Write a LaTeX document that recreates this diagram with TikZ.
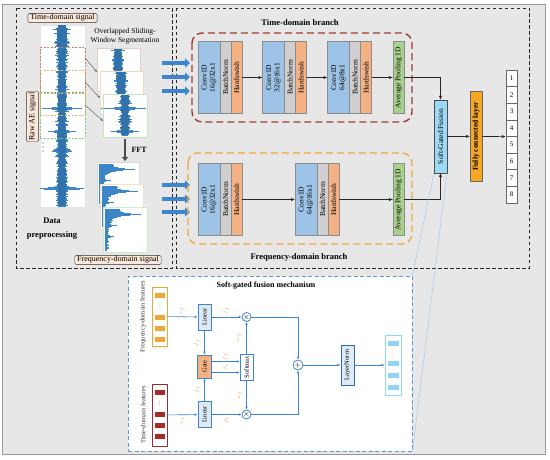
\documentclass[tikz,border=0pt]{standalone}
\usepackage{fontspec}
\setmainfont{Liberation Serif}
\usepackage{tikz}
\usetikzlibrary{arrows,arrows.meta,positioning,shapes,calc}

\definecolor{bggray}{HTML}{E7E7E7}
\definecolor{sigblue}{HTML}{3A86C8}
\definecolor{arrblue}{HTML}{3D85D0}
\definecolor{convblue}{HTML}{9DC3E6}
\definecolor{bngray}{HTML}{D0CECE}
\definecolor{hsorange}{HTML}{F4B183}
\definecolor{poolgreen}{HTML}{A9D18E}
\definecolor{fusblue}{HTML}{9CD9F5}
\definecolor{fcorange}{HTML}{F5A623}
\definecolor{tdred}{HTML}{A33A32}
\definecolor{fdorange}{HTML}{F0A73A}
\definecolor{mechblue}{HTML}{5B9BD5}
\definecolor{lblbeige}{HTML}{FBE8D8}
\definecolor{featred}{HTML}{A52A2A}
\definecolor{lblorange}{HTML}{E6A05A}
\definecolor{outblue}{HTML}{8FD3F7}
\definecolor{lnblue}{HTML}{DEEBF7}
\definecolor{winred}{HTML}{C08070}
\definecolor{winorange}{HTML}{F0B070}
\definecolor{wingreen}{HTML}{80D080}

\newcommand{\rtext}[1]{\rotatebox{90}{\shortstack{#1}}}
% raw AE signal strip: centre x, first y, last y
\newcommand{\wavestrip}[3]{%
  \pgfmathsetseed{#2}%
  \foreach \t in {#2,...,#3}{%
    \pgfmathsetmacro{\wvh}{2.6+1.6*rnd+0.6*abs(sin(\t*53))+1.5*max(0,1-abs(\t-30)/18)}%
    \pgfmathsetmacro{\wvs}{3.5*rnd^3+16*max(0,1-abs(\t-108)/1.6)+10*max(0,1-abs(\t-131)/1.6)+18*max(0,1-abs(\t-188)/2.2)+5*max(0,1-abs(\t-150)/3)}%
    \draw[sigblue!85!black, line width=1.05pt] (#1-\wvh,\t) -- (#1+\wvh,\t);
    \draw[sigblue, line width=0.5pt] (#1-\wvh-\wvs,\t) -- (#1+\wvh+\wvs,\t);
  }}
% spectrum strip: left x, first y, last y
\newcommand{\specstrip}[3]{%
  \pgfmathsetseed{#2}%
  \foreach \t in {#2,...,#3}{%
    \pgfmathsetmacro{\sd}{\t-#2}%
    \pgfmathsetmacro{\wvw}{min(36,2+30*exp(-abs(\sd-5)/1.6)+11*exp(-\sd/9)+6*max(0,1-abs(\sd-16)/1.5)+4*max(0,1-abs(\sd-27)/1.5)+2.5*rnd^2)}%
    \draw[sigblue, line width=0.9pt] (#1,\t) -- (#1+\wvw,\t);
  }}

\begin{document}
\begin{tikzpicture}[x=1pt, y=-1pt,
  blk/.style={draw=black!45, outer sep=0pt, inner sep=0pt, minimum height=72pt, font=\fontsize{7.5}{8.5}\selectfont},
  conv/.style={blk, fill=convblue, minimum width=22pt},
  bn/.style={blk, fill=bngray, minimum width=11pt},
  hs/.style={blk, fill=hsorange, minimum width=11pt},
  pool/.style={blk, fill=poolgreen, minimum width=11pt},
  tag/.style={draw=black!80, fill=lblbeige, rounded corners=1.5pt, inner xsep=2.5pt, inner ysep=1pt, font=\fontsize{8}{9}\selectfont},
  ttl/.style={font=\fontsize{8.5}{10}\selectfont\bfseries},
  dbox/.style={draw=black!85, line width=0.9pt, dash pattern=on 3.5pt off 2.5pt},
  win/.style={draw=#1, line width=0.5pt, dash pattern=on 2pt off 1.5pt, minimum width=45pt, minimum height=45pt, inner sep=0pt},
  frm/.style={draw=#1, fill=white, line width=0.3pt, minimum width=43pt, minimum height=43pt, inner sep=0pt},
  segline/.style={draw=black!70, line width=0.4pt, -{Latex[length=2.5pt,width=2pt]}},
  fftarr/.style={draw=black!70, line width=2.5pt, -{Triangle[length=4pt,width=6pt]}},
  bigarr/.style={draw=arrblue, line width=4pt, -{Triangle[length=5pt,width=9pt]}},
  flow/.style={draw=black!85, line width=0.6pt, -{Latex[length=4pt,width=3.2pt]}},
  outbox/.style={draw=black!60, fill=white, minimum width=11pt, minimum height=16.6pt, inner sep=0pt, font=\fontsize{7}{8}\selectfont},
  mbox/.style={draw=arrblue, line width=0.8pt, fill=#1, inner sep=0pt, font=\fontsize{6.5}{7}\selectfont},
  mar/.style={draw=arrblue, line width=0.6pt, -{Latex[length=3pt,width=2.6pt]}},
  lbl/.style={rotate=90, text=lblorange, font=\fontsize{5.5}{6}\selectfont, inner sep=0.5pt},
  op/.style={circle, draw=arrblue, line width=0.8pt, fill=white, inner sep=0pt, minimum size=9pt, font=\fontsize{8}{8}\selectfont}]
\useasboundingbox (0,0) rectangle (550,460);
\draw[draw=black!40, fill=bggray, line width=0.8pt] (2,4) rectangle (545,454);
\draw[dbox] (16,8) rectangle (172,268);
\draw[dbox] (176,8) rectangle (529,268);

% data preprocessing
\node[tag] (tsig) at (62.5,18) {Time-domain signal};
\node[draw=black!10, fill=white, minimum width=45pt, minimum height=182pt, inner sep=0pt] (raw) at (62.5,116) {};
\wavestrip{62}{26}{206}
\node[win=winred] (win1) at (62.5,70) {};
\node[win=winorange] (win2) at (62.5,92.5) {};
\node[win=wingreen] (win3) at (62.5,115.5) {};
\node[tag] (rawae) at (32.5,116.5) {\rtext{Raw AE signal}};
\foreach \yy in {143,147,151}
  \fill[black!80] (43,\yy) circle (0.7pt);
\node[align=center, font=\fontsize{7.5}{8.5}\selectfont] (segtxt) at (125,36) {Overlapped Sliding-\\Window Segmentation};
\node[frm=winred!40] (seg1) at (118.5,69.5) {};
\wavestrip{118}{50}{89}
\node[frm=winorange!50] (seg2) at (121.5,92.5) {};
\wavestrip{121}{73}{112}
\node[frm=wingreen!50, minimum width=44pt] (seg3) at (125,115.5) {};
\wavestrip{125}{96}{135}
\coordinate (w1) at (85,58);  \coordinate (e1) at (97,72);
\coordinate (w2) at (85,82);  \coordinate (e2) at (100,98);
\coordinate (w3) at (85,105); \coordinate (e3) at (103,121);
\draw[segline] (w1) -- (e1);
\draw[segline] (w2) -- (e2);
\draw[segline] (w3) -- (e3);
\coordinate (fa) at (125,139);
\coordinate (fb) at (125,161);
\draw[fftarr] (fa) -- node[right=2pt, font=\fontsize{8}{9}\selectfont\bfseries] {FFT} (fb);
\node[frm=black!15, minimum width=42pt] (spec1) at (118,183.5) {};
\specstrip{99}{164}{203}
\node[frm=winorange!40, minimum height=44pt] (spec2) at (121.5,206) {};
\specstrip{102}{186}{226}
\node[frm=wingreen!40, minimum width=44pt, minimum height=45pt] (spec3) at (125,229.5) {};
\specstrip{105}{209}{250}
\node[ttl, align=center, font=\fontsize{8.5}{14}\selectfont\bfseries] (dp) at (52,229) {Data\\preprocessing};
\node[tag] (fsig) at (118,260) {Frequency-domain signal};
\foreach \yy/\n in {63/1,77/2,91/3,185/4,199/5,212/6}{
  \coordinate (ba\n) at (162,\yy);
  \coordinate (bb\n) at (190,\yy);
  \draw[bigarr] (ba\n) -- (bb\n);
}

% time-domain branch
\node[ttl] (tdb) at (300,23) {Time-domain branch};
\draw[tdred, line width=1.4pt, dash pattern=on 7pt off 4pt, rounded corners=10pt] (192,33) rectangle (412,122);
\node[conv] (c1) at (209,77.5) {\rtext{Conv1D\\16@32x1}};
\node[bn, right=0pt of c1] (b1) {\rtext{BatchNorm}};
\node[hs, right=0pt of b1] (h1) {\rtext{Hardswish}};
\node[conv] (c2) at (273.5,77.5) {\rtext{Conv1D\\32@16x1}};
\node[bn, right=0pt of c2] (b2) {\rtext{BatchNorm}};
\node[hs, right=0pt of b2] (h2) {\rtext{Hardswish}};
\node[conv] (c3) at (338.5,77.5) {\rtext{Conv1D\\64@8x1}};
\node[bn, right=0pt of c3] (b3) {\rtext{BatchNorm}};
\node[hs, right=0pt of b3] (h3) {\rtext{Hardswish}};
\node[pool] (p1) at (398.5,77.5) {\rtext{Average Pooling 1D}};
\draw[flow] (h1) -- (c2);
\draw[flow] (h2) -- (c3);
\draw[flow] (h3) -- (p1);

% frequency-domain branch
\draw[fdorange, line width=1.4pt, dash pattern=on 7pt off 4pt, rounded corners=10pt] (188,153) rectangle (412,244);
\node[conv] (c4) at (209,199.5) {\rtext{Conv1D\\16@32x1}};
\node[bn, right=0pt of c4] (b4) {\rtext{BatchNorm}};
\node[hs, right=0pt of b4] (h4) {\rtext{Hardswish}};
\node[conv] (c5) at (306,199.5) {\rtext{Conv1D\\64@16x1}};
\node[bn, right=0pt of c5] (b5) {\rtext{BatchNorm}};
\node[hs, right=0pt of b5] (h5) {\rtext{Hardswish}};
\node[pool] (p2) at (398.5,199.5) {\rtext{Average Pooling 1D}};
\draw[flow] (h4) -- (c5);
\draw[flow] (h5) -- (p2);
\node[ttl] (fdb) at (299,257) {Frequency-domain branch};

% fusion and output
\node[blk, fill=fusblue, draw=black!70, minimum width=13pt, minimum height=73pt] (sgf) at (440.5,136.4) {\rtext{Soft-Gated Fusion}};
\draw[flow] (p1) -| (sgf);
\draw[flow] (p2) -| (sgf);
\node[blk, fill=fcorange, draw=black!60, minimum width=12pt, minimum height=90pt, font=\fontsize{7.5}{8.5}\selectfont\bfseries] (fc) at (476,136.4) {\rtext{Fully connected layer}};
\draw[flow] (sgf) -- (fc);
\foreach \i in {1,...,8}
  \node[outbox] (o\i) at (511.5,61.7+16.6*\i) {\i};
\draw[flow] (fc) -- (o4.south west);

% soft-gated fusion mechanism
\node[draw=mechblue, line width=0.9pt, dash pattern=on 4pt off 2.5pt, fill=white, minimum width=284pt, minimum height=175pt] (mech) at (270,363.5) {};
\draw[mechblue!60, line width=0.4pt] (sgf.south west) -- (mech.north east);
\draw[mechblue!60, line width=0.4pt] (sgf.south east) -- (mech.south east);
\node[font=\fontsize{8}{9}\selectfont\bfseries] (mtitle) at (266,286) {Soft-gated fusion mechanism};
\node[font=\fontsize{6.5}{7}\selectfont, text=black!80] (fflbl) at (143,316.5) {\rtext{Frequency-domain features}};
\node[font=\fontsize{6.5}{7}\selectfont, text=black!80] (tflbl) at (143,415) {\rtext{Time-domain features}};
\node[draw=fdorange, line width=0.8pt, fill=white, minimum width=15pt, minimum height=59pt, inner sep=0pt] (fv) at (159.5,316.5) {};
\foreach \yy in {295,317,328,339}
  \fill[fdorange] (154.5,\yy-2.5) rectangle (164.5,\yy+2.5);
\node[lbl, text=fdorange] at (159.5,306) {...};
\node[draw=featred, line width=0.8pt, fill=white, minimum width=15pt, minimum height=62pt, inner sep=0pt] (tv) at (159.5,415) {};
\foreach \yy in {392,414,425,436}
  \fill[featred] (154.5,\yy-2.5) rectangle (164.5,\yy+2.5);
\node[lbl, text=featred] at (159.5,403) {...};
\node[mbox=lnblue, minimum width=13pt, minimum height=26pt] (lin1) at (204.5,317) {\rtext{Linear}};
\node[mbox=lnblue, minimum width=13pt, minimum height=26pt] (lin2) at (204.5,414.5) {\rtext{Linear}};
\node[mbox=hsorange, minimum width=14pt, minimum height=23pt] (gate) at (204.5,366.5) {\rtext{Gate}};
\node[mbox=white, minimum width=13pt, minimum height=26pt] (sm) at (246.5,367) {\rtext{Softmax}};
\node[op] (ot1) at (246.5,317) {$\times$};
\node[op] (ot2) at (246.5,414.5) {$\times$};
\node[op, minimum size=10pt] (pl) at (298,365) {$+$};
\node[mbox=lnblue, draw=arrblue!80!black, minimum width=13pt, minimum height=40pt] (ln) at (347.5,365) {\rtext{LayerNorm}};
\node[draw=outblue, line width=0.8pt, fill=white, minimum width=16pt, minimum height=60pt, inner sep=0pt] (ov) at (393,365) {};
\foreach \yy in {343,363,375,387}
  \fill[outblue] (387.5,\yy-2.5) rectangle (398.5,\yy+2.5);
\node[lbl, text=outblue] at (393,353) {...};
\draw[mar] (fv) -- node[midway, yshift=6pt, lbl] {$x_f$} (lin1);
\draw[mar] (lin1) -- node[midway, yshift=6pt, lbl] {$f_f$} (ot1);
\draw[mar] (lin1) -- node[midway, xshift=-7pt, lbl] {$f_f$} (gate);
\draw[mar] (lin2) -- node[midway, xshift=-7pt, lbl] {$f_t$} (gate);
\draw[mar] ([yshift=5pt]gate.east) -- node[midway, yshift=5pt, lbl] {$f_f$} ([yshift=5pt]gate.east -| sm.west);
\draw[mar] ([yshift=-6pt]gate.east) -- node[midway, yshift=5pt, lbl] {$f_t$} ([yshift=-6pt]gate.east -| sm.west);
\draw[mar] (sm) -- node[midway, xshift=-7pt, lbl] {$w_f$} (ot1);
\draw[mar] (sm) -- node[midway, xshift=-7pt, lbl] {$w_t$} (ot2);
\draw[mar] (tv) -- node[midway, yshift=-6pt, lbl] {$x_t$} (lin2);
\draw[mar] (lin2) -- node[midway, yshift=-6pt, lbl] {$f_t$} (ot2);
\draw[mar] (ot1) -| (pl);
\draw[mar] (ot2) -| (pl);
\draw[mar] (pl) -- (ln);
\draw[mar] (ln) -- (ov);
\end{tikzpicture}
\end{document}
